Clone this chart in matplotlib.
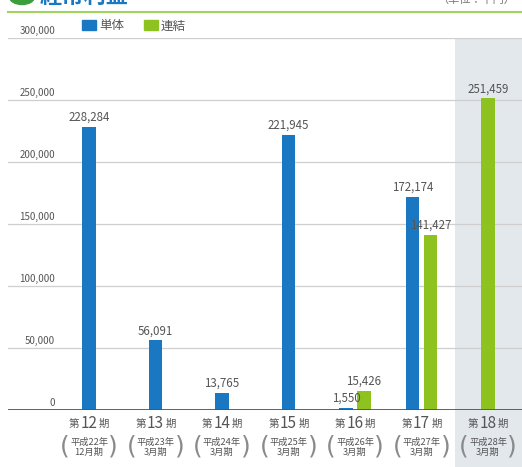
import matplotlib.pyplot as plt
from matplotlib.patches import Patch, Ellipse
from matplotlib.lines import Line2D

plt.rcParams['font.family'] = ['Noto Sans CJK JP', 'DejaVu Sans']

# データ（単位：千円）
periods = ['12', '13', '14', '15', '16', '17', '18']
eras = ['平成22年', '平成23年', '平成24年', '平成25年', '平成26年', '平成27年', '平成28年']
months = ['12月期', '3月期', '3月期', '3月期', '3月期', '3月期', '3月期']
tandoku = [228284, 56091, 13765, 221945, 1550, 172174, None]
renketsu = [None, None, None, None, 15426, 141427, 251459]
yticks = [0, 50000, 100000, 150000, 200000, 250000, 300000]

BLUE = '#1a78c2'
GREEN = '#8dc21f'
TXT = '#555555'

W, H = 522, 467
fig = plt.figure(figsize=(W / 100, H / 100), dpi=100)
ax = fig.add_axes([8 / W, 57 / H, 514 / W, 372 / H])
ax.set_xlim(-1.218, 6.511)
ax.set_ylim(0, 300000)
ax.set_xticks([])
ax.set_yticks([])
for s in ax.spines.values():
    s.set_visible(False)

# 最新期の背景
ax.axvspan(5.5, 7.0, ymin=-57 / 372, ymax=1, color='#e3e8ed', zorder=0.5, clip_on=False, lw=0)

# グリッド
for v in yticks[1:]:
    ax.axhline(v, color='#cfcfcf', lw=0.9, zorder=1)
ax.axhline(0, color='#555555', lw=1.3, zorder=3)
for v in yticks:
    ax.annotate(f'{v:,}', xy=(47 / 514, v), xycoords=ax.get_yaxis_transform(),
                xytext=(0, 2), textcoords='offset pixels',
                ha='right', va='bottom', fontsize=7, color=TXT)

# 棒
bw = 0.205
off = 0.135
for i in range(len(periods)):
    t, r = tandoku[i], renketsu[i]
    both = t is not None and r is not None
    for val, col, sgn in ((t, BLUE, -1), (r, GREEN, 1)):
        if val is None:
            continue
        x = i + (sgn * off if both else 0)
        ax.bar(x, val, width=bw, color=col, zorder=2)
        ax.annotate(f'{val:,}', xy=(x, val), xytext=(0, 3), textcoords='offset pixels',
                    ha='center', va='bottom', fontsize=8.3, color=TXT, zorder=4)

# x軸ラベル
xt = ax.get_xaxis_transform()
for i, p in enumerate(periods):
    ax.annotate(p, xy=(i, 0), xycoords=xt, xytext=(0, -13), textcoords='offset pixels',
                ha='center', va='center', fontsize=11, color=TXT, annotation_clip=False)
    ax.annotate('第', xy=(i, 0), xycoords=xt, xytext=(-10, -14), textcoords='offset pixels',
                ha='right', va='center', fontsize=7.5, color=TXT, annotation_clip=False)
    ax.annotate('期', xy=(i, 0), xycoords=xt, xytext=(10, -14), textcoords='offset pixels',
                ha='left', va='center', fontsize=7.5, color=TXT, annotation_clip=False)
    ax.annotate(eras[i] + '\n' + months[i], xy=(i, 0), xycoords=xt, xytext=(0, -37.5),
                textcoords='offset pixels', ha='center', va='center', fontsize=6.7,
                linespacing=1.05, color=TXT, annotation_clip=False)
    for ch, dx in (('(', -24), (')', 24)):
        ax.annotate(ch, xy=(i, 0), xycoords=xt, xytext=(dx, -36.5), textcoords='offset pixels',
                    ha='center', va='center', fontsize=18, color='#8a8a8a',
                    family='DejaVu Sans', annotation_clip=False)

# 凡例
handles = [Patch(color=BLUE, label='単体'), Patch(color=GREEN, label='連結')]
fig.legend(handles=handles, loc='center left', bbox_to_anchor=(82 / W, 1 - 26 / H),
           ncol=2, frameon=False, fontsize=9, handlelength=1.15, handleheight=0.9,
           handletextpad=0.2, columnspacing=1.6, borderpad=0, borderaxespad=0,
           labelcolor=TXT)

# タイトル（上端で切れている）
fig.add_artist(Ellipse((22 / W, 1 + 3 / H), 25 / W, 15 / H, color='#3a9e3a',
                       transform=fig.transFigure))
fig.text(40 / W, 1 - 3 / H, '経常利益', fontsize=16, weight='bold', color=BLUE, va='baseline')
fig.text(515 / W, 1 - 3 / H, '（単位：千円）', fontsize=8, color='#777777', ha='right', va='baseline')
fig.add_artist(Line2D([8 / W, 1], [1 - 11.5 / H] * 2, color='#a2d35c', lw=1.5,
                      transform=fig.transFigure))

fig.savefig('out.png', dpi=100)
